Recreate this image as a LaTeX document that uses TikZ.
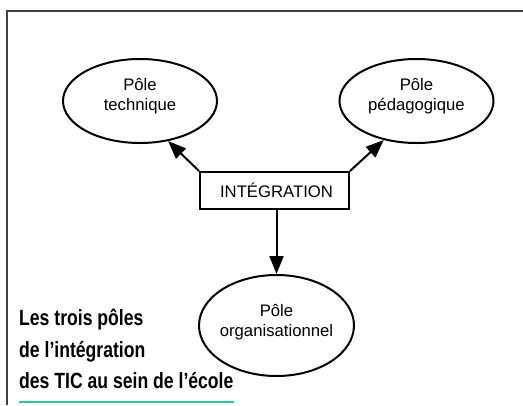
\documentclass[tikz,border=0pt]{standalone}
\usepackage{fontspec}
\setmainfont{Liberation Sans}
\newfontfamily\capfont[FakeStretch=0.8]{Liberation Sans Bold}
\usetikzlibrary{shapes.geometric,arrows.meta}
\definecolor{teal1}{RGB}{46,196,160}
\begin{document}
\begin{tikzpicture}[x=1pt,y=-1pt,
  pole/.style={ellipse,draw,line width=2pt,minimum width=154pt,minimum height=84pt,inner sep=0pt},
  poletxt/.style={align=center,inner sep=0pt,font=\fontsize{16.7}{20}\selectfont},
  integ/.style={rectangle,draw,line width=2pt,minimum width=149pt,minimum height=37pt,inner sep=0pt,font=\fontsize{16.7}{20}\selectfont},
  conn/.style={line width=2pt,-{Triangle[length=18pt,width=14pt]}},
  captxt/.style={anchor=base west,inner sep=0pt,font=\capfont\fontsize{22}{26}\selectfont}]
\useasboundingbox (0,0) rectangle (523,405);
\draw[black!75,line width=1.5pt] (7,405) -- (7,11) -- (523,11);
\node[pole,label={[poletxt,yshift=5pt]center:Pôle\\technique}] (tech) at (140,101) {};
\node[pole,label={[poletxt,yshift=5pt]center:Pôle\\pédagogique}] (ped) at (416.5,101) {};
\node[pole,minimum width=155pt,minimum height=101pt,label={[poletxt,yshift=3pt]center:Pôle\\organisationnel}] (org) at (276.5,325.5) {};
\node[integ] (box) at (274.5,190.5) {\hspace*{4pt}INTÉGRATION};
\draw[conn] (box.north west) -- (tech.-55);
\draw[conn] (box.north east) -- (ped.-130);
\draw[conn] (org.north |- box.south) -- (org.north);
\node[captxt] (cap1) at (19,325) {Les trois pôles};
\node[captxt] (cap2) at (19,357) {de l’intégration};
\node[captxt] (cap3) at (19,388) {des TIC au sein de l’école};
\draw[teal1,line width=2pt] (19,402) -- (234,402);
\end{tikzpicture}
\end{document}
